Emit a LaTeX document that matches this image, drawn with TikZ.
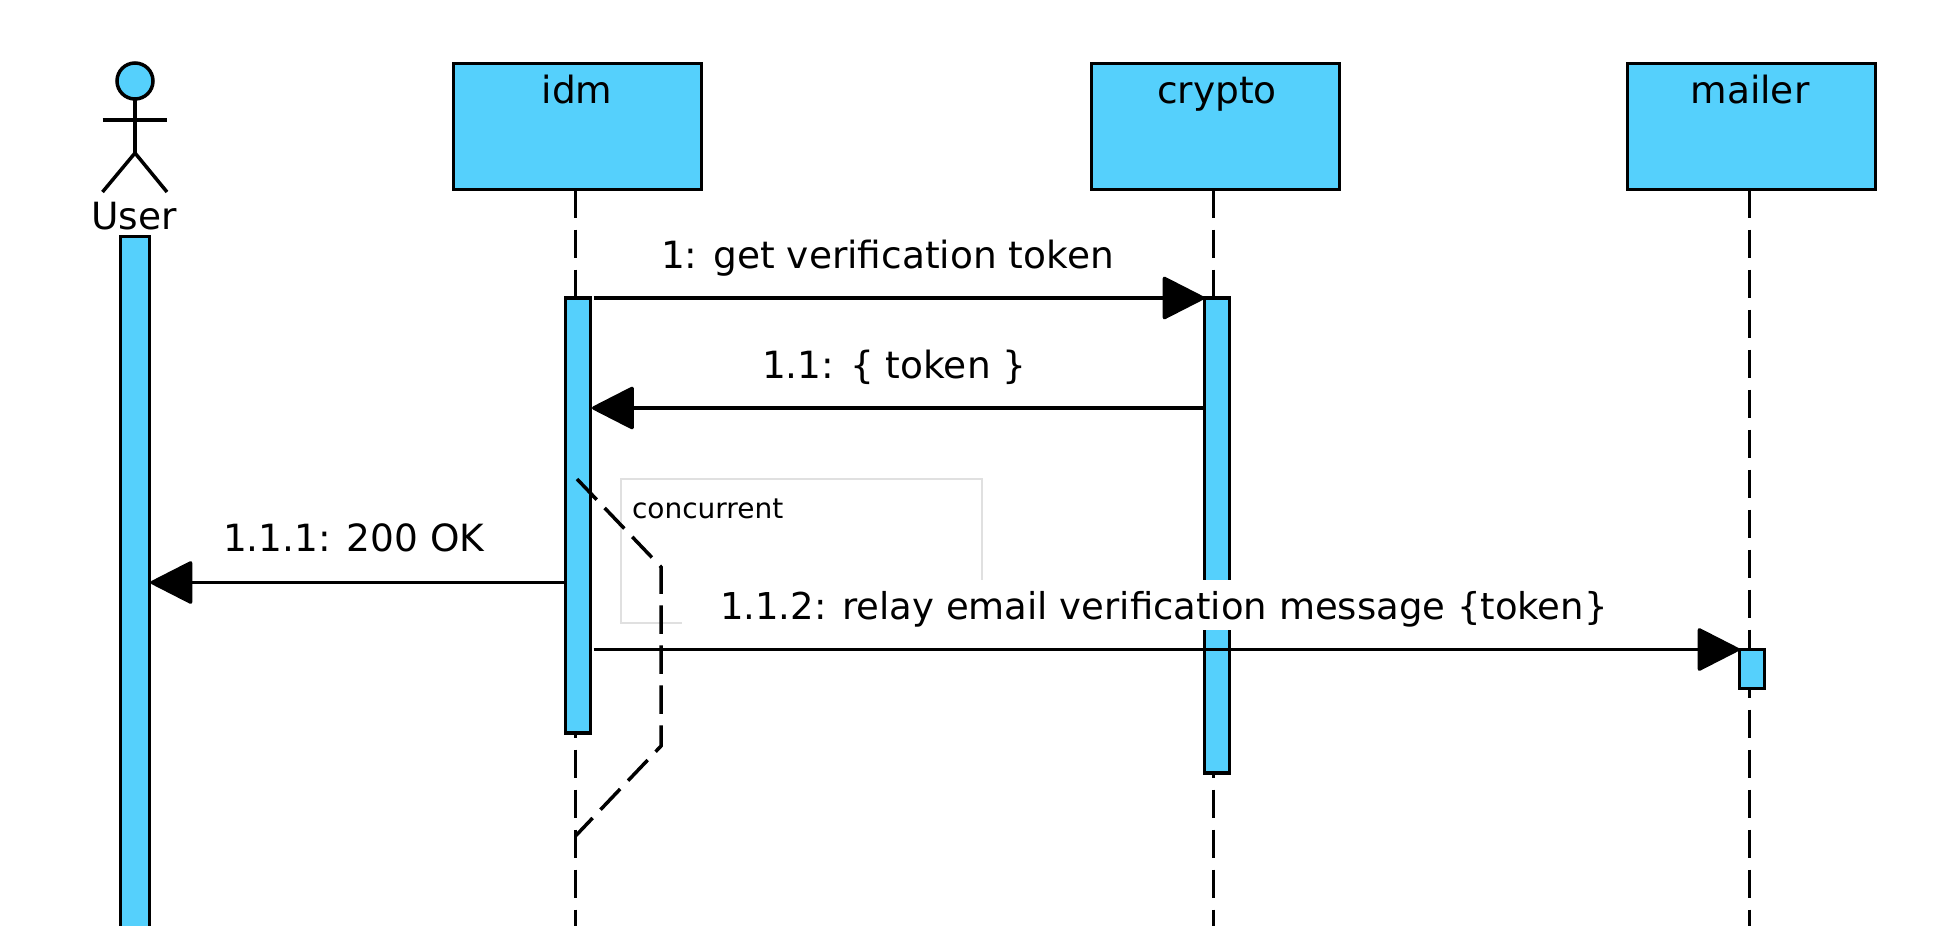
\documentclass[tikz,border=0pt]{standalone}
\usepackage{fontspec}
\setmainfont{DejaVu Sans}
\usetikzlibrary{arrows.meta, positioning}
\definecolor{lifeblue}{HTML}{55D0FC}

\begin{document}
\begin{tikzpicture}[
	x=1pt, y=-1pt,
	every node/.style={align=center, outer sep=0pt},
	lifebox/.style={rectangle, draw, line width=3.5pt, fill=lifeblue, minimum width=248pt, minimum height=126pt},
	activebar/.style={rectangle, draw, line width=3.5pt, fill=lifeblue, minimum width=25pt},
	boxtext/.style={anchor=base, font=\fontsize{37.5}{40}\selectfont},
	msgtext/.style={anchor=base west, font=\fontsize{37.5}{40}\selectfont, inner sep=0pt},
	lifeline/.style={line width=3.5pt, dash pattern=on 28.5pt off 11.5pt},
	limb/.style={line width=3.5pt},
	msg/.style={-{Triangle[length=44pt, width=44pt, round]}, line width=3.5pt, line cap=butt}
	]
	\useasboundingbox (0,0) rectangle (1944,926);
	\node[lifebox, anchor=north west] (idm) at (453.5,63.5) {};
	\node[lifebox, right=390pt of idm] (crypto) {};
	\node[lifebox, right=288pt of crypto] (mailer) {};
	\node[boxtext] (idmtext) at (577,103) {idm};
	\node[boxtext] (cryptotext) at (1217,103) {crypto};
	\node[boxtext] (mailertext) at (1750,103) {mailer};
	\coordinate (idmend) at (575.5,926);
	\coordinate (cryptoend) at (1213.5,926);
	\coordinate (mailerend) at (1749.5,926);
	\draw[lifeline] ([xshift=-2pt]idm.south) -- (idmend);
	\draw[lifeline] ([xshift=-2pt]crypto.south) -- (cryptoend);
	\draw[lifeline] ([xshift=-2pt]mailer.south) -- (mailerend);
	% user
	\node[circle, draw, line width=3.5pt, fill=lifeblue, minimum size=36pt, inner sep=0pt] (head) at (135,81) {};
	\coordinate (hip) at (135,153);
	\coordinate (armleft) at (102.5,120);
	\coordinate (armright) at (167,120);
	\coordinate (footleft) at (102.5,192);
	\coordinate (footright) at (167,192);
	\draw[limb] (head.south) -- (hip);
	\draw[limb] (armleft) -- (armright);
	\draw[limb] (footleft) -- (hip) -- (footright);
	\node[boxtext] (user) at (134,229) {User};
	\node[activebar, anchor=north, minimum width=29pt, minimum height=700pt] (userbar) at (135,236.5) {};
	% concurrent
	\draw[draw=black!12, line width=1.5pt] (621,479) rectangle (982,623);
	\node[anchor=base west, inner sep=0pt, font=\fontsize{28}{30}\selectfont] (note) at (632,518) {concurrent};
	% bars
	\node[activebar, anchor=north, minimum height=435pt, below=108.5pt of idm.south, xshift=.5pt] (idmbar) {};
	\node[activebar, anchor=north, minimum height=475pt, below=108.5pt of crypto.south, xshift=1.5pt] (cryptobar) {};
	\node[activebar, anchor=north, minimum height=39pt] (mailerbar) at (1752,649.5) {};
	% concurrent fragment
	\coordinate (fork) at (577,479);
	\coordinate (joinback) at (575.5,836);
	\draw[lifeline] (fork) -- (661,567) -- (661,746) -- (joinback);
	% messages
	\coordinate (tokenrow) at (0,408);
	\coordinate (okrow) at (0,582.5);
	\draw[msg, shorten <=3pt] (idmbar.north east) -- (cryptobar.north west);
	\draw[msg, shorten >=1.5pt] (cryptobar.west |- tokenrow) -- (idmbar.east |- tokenrow);
	\draw[msg, shorten >=1pt] (idmbar.west |- okrow) -- (userbar.east |- okrow);
	\node[msgtext] (gettoken) at (661,268) {1: get verification token};
	\node[msgtext] (token) at (762,378) {1.1: \{ token \}};
	\node[msgtext] (ok) at (223,551) {1.1.1: 200 OK};
	\node[fill=white, minimum width=940pt, minimum height=50pt, anchor=north west] (relaybg) at (682,580) {};
	\node[msgtext, font=\fontsize{37}{40}\selectfont] (relay) at (720,619) {1.1.2: relay email verification message \{token\}};
	\draw[msg, shorten <=3pt] (idmbar.east |- mailerbar.north) -- (mailerbar.north west);
\end{tikzpicture}
\end{document}
